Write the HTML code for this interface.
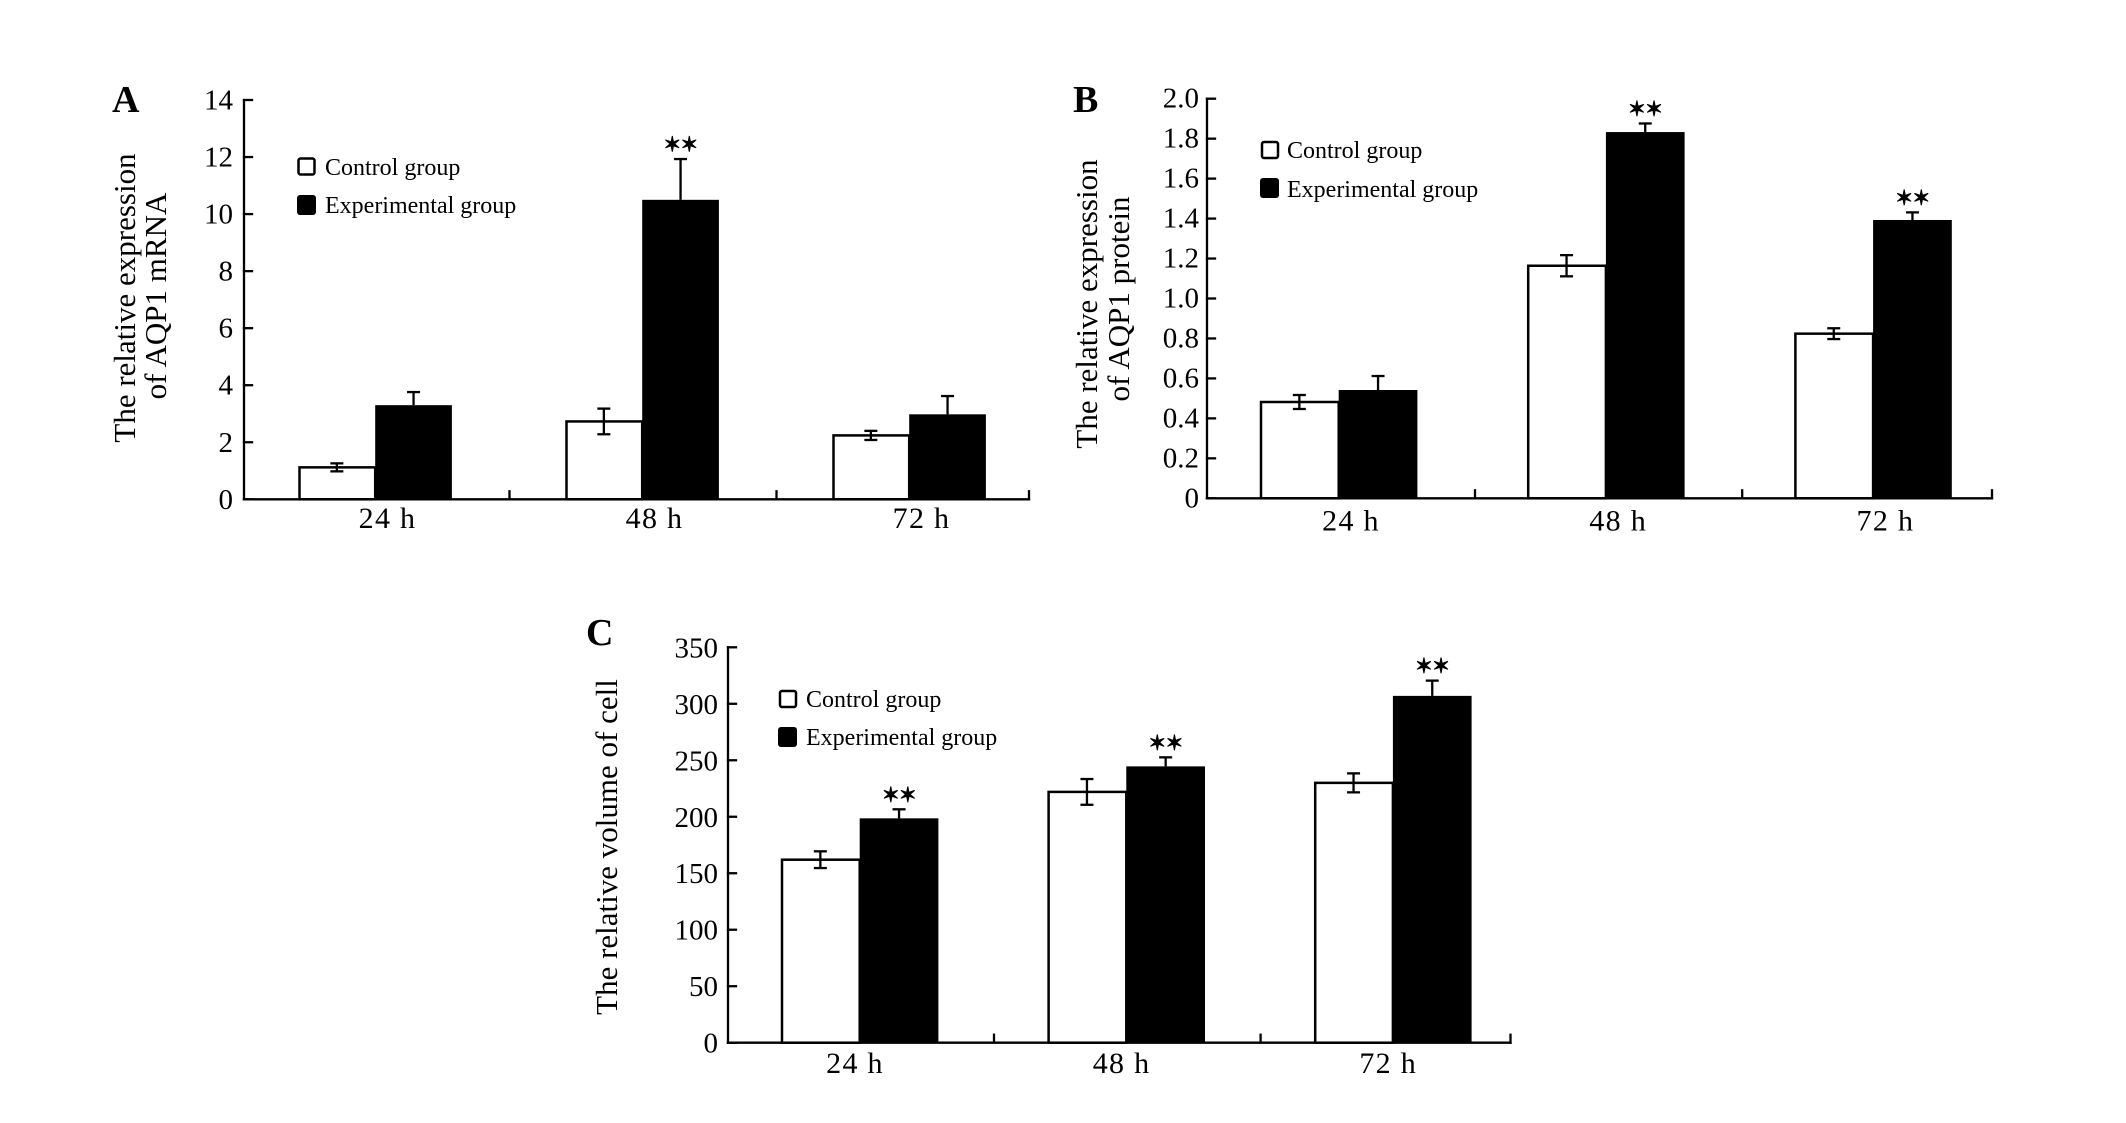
<!DOCTYPE html>
<html lang="en">
<head>
<meta charset="utf-8">
<title>AQP1 expression and cell volume</title>
<style>
  html, body { margin: 0; padding: 0; background: #fff; }
  svg { display: block; }
  text { font-family: "Liberation Serif", serif; fill: #000; }
  .letter { font-size: 38px; font-weight: bold; }
  .title { font-size: 31px; }
  .legend { font-size: 24px; }
  .tick { font-size: 29px; text-anchor: end; }
  .cat { font-size: 30px; text-anchor: middle; letter-spacing: 1.3px; }
  .star { font-family: "DejaVu Sans", sans-serif; font-size: 21px; text-anchor: middle; letter-spacing: -0.5px; stroke: #000; stroke-width: 1; }
</style>
</head>
<body>
<svg id="figure" width="2126" height="1123" viewBox="0 0 2126 1123" xmlns="http://www.w3.org/2000/svg">
  <rect x="0" y="0" width="2126" height="1123" fill="#fff"/>

  <g id="panel-a">
    <text class="letter" x="112" y="112">A</text>
    <text class="title" text-anchor="middle" transform="translate(135 298) rotate(-90)">The relative expression</text>
    <text class="title" text-anchor="middle" transform="translate(166 296) rotate(-90)">of AQP1 mRNA</text>
    <rect x="298.5" y="158.5" width="16" height="16" rx="2" fill="#fff" stroke="#000" stroke-width="2.5"/>
    <text class="legend" x="325" y="175">Control group</text>
    <rect x="297" y="195" width="19" height="20" rx="3" fill="#000"/>
    <text class="legend" x="325" y="213">Experimental group</text>
  </g>

  <g id="panel-b">
    <text class="letter" x="1073" y="112">B</text>
    <text class="title" text-anchor="middle" transform="translate(1097 304) rotate(-90)">The relative expression</text>
    <text class="title" text-anchor="middle" transform="translate(1129 299) rotate(-90)">of AQP1 protein</text>
    <rect x="1262" y="142" width="16" height="16" rx="2" fill="#fff" stroke="#000" stroke-width="2.5"/>
    <text class="legend" x="1287" y="158">Control group</text>
    <rect x="1260" y="178" width="19" height="20" rx="3" fill="#000"/>
    <text class="legend" x="1287" y="197">Experimental group</text>
  </g>

  <g id="panel-c">
    <text class="letter" x="586" y="645" style="font-weight:bold">C</text>
    <text class="title" text-anchor="middle" transform="translate(617 847) rotate(-90)">The relative volume of cell</text>
    <rect x="780" y="691" width="16" height="16" rx="2" fill="#fff" stroke="#000" stroke-width="2.5"/>
    <text class="legend" x="806" y="707">Control group</text>
    <rect x="778" y="727" width="19" height="20" rx="3" fill="#000"/>
    <text class="legend" x="806" y="745">Experimental group</text>
  </g>
</svg>

<script>
const categories = ['24 h', '48 h', '72 h'];

const ticksA = ['0', '2', '4', '6', '8', '10', '12', '14'];
const controlA = [1.12, 2.73, 2.24];
const controlErrA = [0.14, 0.45, 0.16];
const experimentalA = [3.3, 10.5, 2.98];
const experimentalErrA = [0.46, 1.43, 0.64];
const starsA = [false, true, false];

const ticksB = ['0', '0.2', '0.4', '0.6', '0.8', '1.0', '1.2', '1.4', '1.6', '1.8', '2.0'];
const controlB = [0.482, 1.164, 0.824];
const controlErrB = [0.035, 0.053, 0.027];
const experimentalB = [0.542, 1.833, 1.393];
const experimentalErrB = [0.07, 0.043, 0.038];
const starsB = [false, true, true];

const ticksC = ['0', '50', '100', '150', '200', '250', '300', '350'];
const controlC = [162, 222, 230];
const controlErrC = [7.4, 11.4, 8.4];
const experimentalC = [198.6, 244.6, 307];
const experimentalErrC = [8, 8, 13.5];
const starsC = [true, true, true];

const SVG_NS = 'http://www.w3.org/2000/svg';

function make(parent, tag, attrs, content) {
  const node = document.createElementNS(SVG_NS, tag);
  for (const key in attrs) node.setAttribute(key, attrs[key]);
  if (content !== undefined) node.textContent = content;
  parent.appendChild(node);
  return node;
}

function drawErrorBar(parent, cx, value, err, y, both, capHalf) {
  const group = make(parent, 'g', {});
  
  
  const lower = both ? value - err : value;
  const style = { stroke: '#000', 'stroke-width': 2.3 };
  make(group, 'line', Object.assign({ x1: cx, x2: cx, y1: y(value + err), y2: y(lower) }, style));
  make(group, 'line', Object.assign({ x1: cx - capHalf, x2: cx + capHalf, y1: y(value + err), y2: y(value + err) }, style));
  if (both) {
    make(group, 'line', Object.assign({ x1: cx - capHalf, x2: cx + capHalf, y1: y(lower), y2: y(lower) }, style));
  }
}

function drawPanel(panelId, layout, ticks, control, controlErr, experimental, experimentalErr, stars) {
  const root = document.getElementById(panelId);
  const maxTick = parseFloat(ticks[ticks.length - 1]);
  const y = function (v) {
    return layout.baseY - (v / maxTick) * (layout.baseY - layout.topY);
  };
  const groupX = function (i) {
    return layout.firstBarX + layout.step * i;
  };
  const yTickLength = 8;
  const xTickLength = 8;

  // bars
  categories.forEach(function (category, i) {
    const controlTop = y(control[i]);
    const controlBar = make(root, 'rect', {
      x: groupX(i) + 1, y: controlTop, width: layout.barW - 1, height: layout.baseY - controlTop,
      fill: '#fff', stroke: '#000', 'stroke-width': 2.5
    });
    
    

    const expTop = y(experimental[i]);
    const expBar = make(root, 'rect', {
      x: groupX(i) + layout.barW, y: expTop, width: layout.barW, height: layout.baseY - expTop, fill: '#000'
    });
    
    

    const controlCx = groupX(i) + layout.barW / 2;
    const expCx = groupX(i) + layout.barW * 1.5;
    drawErrorBar(root, controlCx, control[i], controlErr[i], y, true, 6.5);
    drawErrorBar(root, expCx, experimental[i], experimentalErr[i], y, false, 6.5);

    if (stars[i]) {
      const star = make(root, 'text', {
        class: 'star', x: expCx, y: y(experimental[i] + experimentalErr[i]) - 7.5
      }, '\u2736\u2736');
      
      
    }

    const catLabel = make(root, 'text', {
      class: 'cat', x: groupX(i) + layout.catOffset, y: layout.catY
    }, category);
    
    
  });

  // axes
  const axisStyle = { stroke: '#000', 'stroke-width': 2.3, 'stroke-linecap': 'square' };
  const yAxis = make(root, 'line', Object.assign({ x1: layout.axisX, x2: layout.axisX, y1: layout.topY, y2: layout.baseY }, axisStyle));
  
  
  const xAxis = make(root, 'line', Object.assign({ x1: layout.axisX, x2: layout.rightX, y1: layout.baseY, y2: layout.baseY }, axisStyle));
  
  

  ticks.forEach(function (label) {
    const ty = y(parseFloat(label));
    const tickMark = make(root, 'line', Object.assign({ x1: layout.axisX, x2: layout.axisX + yTickLength, y1: ty, y2: ty }, axisStyle));
    
    
    const tickLabel = make(root, 'text', { class: 'tick', x: layout.labelX, y: ty + layout.labelDy }, label);
    
    
  });

  categories.forEach(function (category, i) {
    const tx = i === categories.length - 1 ? layout.rightX : groupX(i) + layout.tickOffset;
    const catTick = make(root, 'line', Object.assign({ x1: tx, x2: tx, y1: layout.baseY - xTickLength, y2: layout.baseY }, axisStyle));
    
    
  });
}

drawPanel('panel-a',
  { axisX: 244, rightX: 1029, baseY: 499.3, topY: 100, firstBarX: 298.5, step: 267, barW: 76.7, tickOffset: 211, catOffset: 89, labelX: 233, labelDy: 9.5, catY: 528 },
  ticksA, controlA, controlErrA, experimentalA, experimentalErrA, starsA);

drawPanel('panel-b',
  { axisX: 1207, rightX: 1992, baseY: 498.3, topY: 98.7, firstBarX: 1260, step: 267.2, barW: 78.7, tickOffset: 215, catOffset: 91, labelX: 1199, labelDy: 9, catY: 530.5 },
  ticksB, controlB, controlErrB, experimentalB, experimentalErrB, starsB);

drawPanel('panel-c',
  { axisX: 728, rightX: 1510.5, baseY: 1042.7, topY: 647.3, firstBarX: 781, step: 266.6, barW: 78.7, tickOffset: 213, catOffset: 74, labelX: 718, labelDy: 10, catY: 1073 },
  ticksC, controlC, controlErrC, experimentalC, experimentalErrC, starsC);
</script>
</body>
</html>
